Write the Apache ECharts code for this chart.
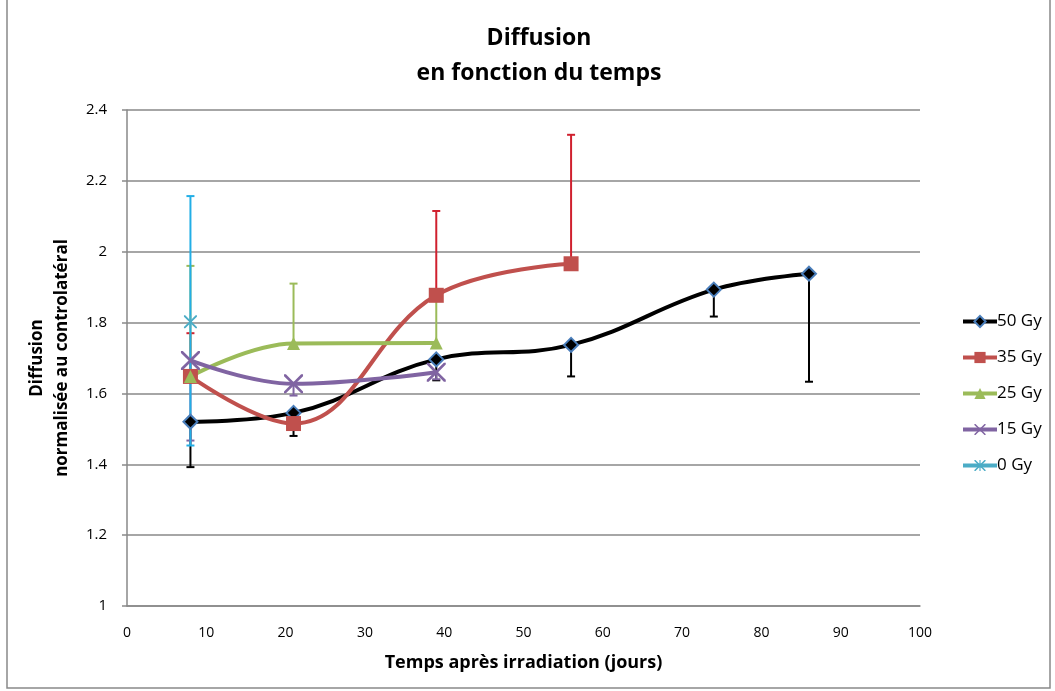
<!DOCTYPE html>
<html>
<head>
<meta charset="utf-8">
<script src="https://cdn.jsdelivr.net/npm/echarts@6/dist/echarts.min.js"></script>
<style>
  html, body { margin: 0; padding: 0; background: #fff; }
  #chart { width: 1055px; height: 691px; }
</style>
</head>
<body>
<div id="chart"></div>
<script>
// values
const seriesNames = ['50 Gy', '35 Gy', '25 Gy', '15 Gy', '0 Gy']

const days50 = [8, 21, 39, 56, 74, 86]
const diff50 = [1.52, 1.545, 1.696, 1.737, 1.893, 1.938]
const low50 = [1.392, 1.48, 1.637, 1.648, 1.817, 1.633]

const days35 = [8, 21, 39, 56]
const diff35 = [1.648, 1.515, 1.877, 1.966]
const high35 = [1.77, null, 2.115, 2.33]

const days25 = [8, 21, 39]
const diff25 = [1.648, 1.741, 1.742]
const high25 = [1.96, 1.91, 1.88]

const days15 = [8, 21, 39]
const diff15 = [1.693, 1.627, 1.66]
const low15 = [1.467, 1.594, 1.64]

const days0 = [8]
const diff0 = [1.802]
const high0 = [2.157]
const low0 = [1.453]

const xTicks = { min: 0, max: 100, interval: 10 }
const yTicks = { min: 1, max: 2.4, interval: 0.2 }

const font = 'Open Sans'
const crossPath = 'path://M0,0 L2,0 L10,8 L18,0 L20,0 L20,2 L12,10 L20,18 L20,20 L18,20 L10,12 L2,20 L0,20 L0,18 L8,10 L0,2 Z'
const starPath = 'path://M0,0 L2,0 L10,8 L18,0 L20,0 L20,2 L12,10 L20,18 L20,20 L18,20 L10,12 L2,20 L0,20 L0,18 L8,10 L0,2 Z M9,0 L11,0 L11,20 L9,20 Z'

function zip(days, vals) {
  return days.map((d, i) => [d, vals[i]])
}

function errData(days, vals, ends) {
  let out = []
  days.forEach((d, i) => {
    if (ends[i] != null) out.push([d, vals[i], ends[i]])
  })
  return out
}

function errorSeries(data, color) {
  return {
    type: 'custom',
    z: 1,
    silent: true,
    renderItem(params, api) {
      const p0 = api.coord([api.value(0), api.value(1)])
      const p1 = api.coord([api.value(0), api.value(2)])
      const style = { stroke: color, lineWidth: 2 }
      return {
        type: 'group',
        children: [
          { type: 'line', shape: { x1: p0[0], y1: p0[1], x2: p1[0], y2: p1[1] }, style },
          { type: 'line', shape: { x1: p1[0] - 4, y1: p1[1], x2: p1[0] + 4, y2: p1[1] }, style }
        ]
      }
    },
    encode: { x: 0, y: [1, 2] },
    data: data
  }
}

function lineSeries(name, data, color, symbol, size, itemStyle) {
  return {
    name: name,
    type: 'line',
    z: 3,
    smooth: 0.4,
    data: data,
    symbol: symbol,
    symbolSize: size,
    lineStyle: { color: color, width: 4 },
    itemStyle: itemStyle || { color: color },
    emphasis: { disabled: true }
  }
}

const chart = echarts.init(document.getElementById('chart'))

chart.setOption({
  animation: false,
  backgroundColor: '#fff',
  title: {
    text: 'Diffusion\nen fonction du temps',
    left: 534,
    textAlign: 'center',
    top: 16,
    textStyle: { fontFamily: font, fontWeight: 'bold', fontSize: 23, lineHeight: 35, color: '#000' }
  },
  legend: {
    data: seriesNames,
    orient: 'vertical',
    left: 956,
    top: 305,
    itemGap: 13,
    itemWidth: 34,
    itemHeight: 14,
    lineStyle: { width: 4 },
    textStyle: { fontFamily: font, fontSize: 17, color: '#000', padding: [0, 0, 0, -5], lineHeight: 23 }
  },
  grid: { left: 127, right: 135, top: 110, bottom: 85 },
  xAxis: {
    type: 'value',
    min: xTicks.min,
    max: xTicks.max,
    interval: xTicks.interval,
    name: 'Temps après irradiation (jours)',
    nameLocation: 'middle',
    nameGap: 48,
    nameTextStyle: { fontFamily: font, fontWeight: 'bold', fontSize: 18, color: '#000' },
    axisLine: { lineStyle: { color: '#898989', width: 1.5 } },
    axisTick: { show: false },
    splitLine: { show: false },
    axisLabel: { fontFamily: font, fontSize: 14, color: '#000', margin: 20 }
  },
  yAxis: {
    type: 'value',
    min: yTicks.min,
    max: yTicks.max,
    interval: yTicks.interval,
    name: 'Diffusion\nnormalisée au controlatéral',
    nameLocation: 'middle',
    nameGap: 48,
    nameRotate: 90,
    nameTextStyle: { fontFamily: font, fontWeight: 'bold', fontSize: 17, color: '#000', lineHeight: 25 },
    axisLine: { show: true, lineStyle: { color: '#898989', width: 1.5 } },
    axisTick: { show: true, length: 5, lineStyle: { color: '#898989', width: 1.5 } },
    splitLine: { lineStyle: { color: '#898989', width: 1.5 } },
    axisLabel: { fontFamily: font, fontSize: 15, color: '#000', margin: 20 }
  },
  graphic: [{
    type: 'rect',
    shape: { x: 7, y: -2, width: 1043, height: 690 },
    style: { fill: 'none', stroke: '#898989', lineWidth: 1.5 },
    silent: true
  }],
  series: [
    errorSeries(errData(days50, diff50, low50), '#000'),
    errorSeries(errData(days35, diff35, high35), '#d0202e'),
    errorSeries(errData(days25, diff25, high25), '#9bbb59'),
    errorSeries(errData(days15, diff15, low15), '#8064a2'),
    errorSeries(errData(days0, diff0, high0), '#22aee6'),
    errorSeries(errData(days0, diff0, low0), '#22aee6'),
    lineSeries('50 Gy', zip(days50, diff50), '#000', 'diamond', 14,
      { color: '#000', borderColor: '#4a7ebb', borderWidth: 2 }),
    lineSeries('35 Gy', zip(days35, diff35), '#c0504d', 'rect', 15),
    lineSeries('25 Gy', zip(days25, diff25), '#9bbb59', 'triangle', 13),
    lineSeries('15 Gy', zip(days15, diff15), '#8064a2', crossPath, 19),
    lineSeries('0 Gy', zip(days0, diff0), '#4bacc6', starPath, 13)
  ]
})
</script>
</body>
</html>
